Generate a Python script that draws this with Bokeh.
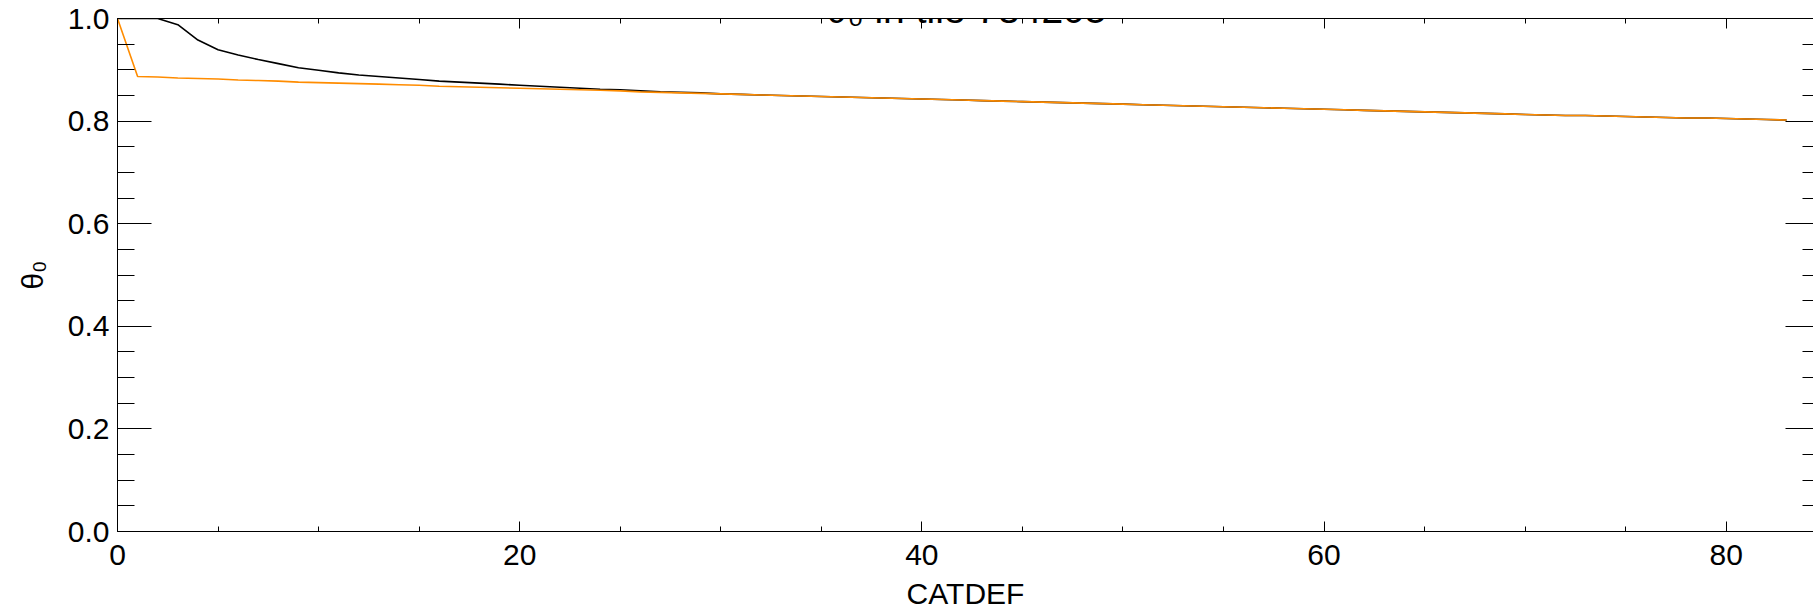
from bokeh.plotting import figure
from bokeh.models import LinearAxis, Label, Range1d, SingleIntervalTicker, PrintfTickFormatter
from bokeh.embed import file_html
from bokeh.resources import INLINE

# ---- data ----
catdef = [0, 1, 2, 3, 4, 5, 6, 7, 8, 9, 10, 11, 12, 13, 14, 15, 16, 17, 18, 19,
          20, 21, 22, 23, 24, 25, 26, 27, 28, 29, 30, 31, 32, 33, 34, 35, 36, 37, 38, 39,
          40, 41, 42, 43, 44, 45, 46, 47, 48, 49, 50, 51, 52, 53, 54, 55, 56, 57, 58, 59,
          60, 61, 62, 63, 64, 65, 66, 67, 68, 69, 70, 71, 72, 73, 74, 75, 76, 77, 78, 79,
          80, 81, 82, 83]

theta0_black = [1.000, 1.000, 1.000, 0.988, 0.958, 0.939, 0.929, 0.920, 0.912, 0.904,
                0.899, 0.894, 0.890, 0.887, 0.884, 0.881, 0.878, 0.876, 0.874, 0.872,
                0.870, 0.868, 0.866, 0.864, 0.862, 0.861, 0.859, 0.857, 0.856, 0.855,
                0.853, 0.852, 0.851, 0.850, 0.849, 0.848, 0.847, 0.846, 0.845, 0.844,
                0.843, 0.842, 0.841, 0.840, 0.839, 0.838, 0.837, 0.836, 0.835, 0.834,
                0.833, 0.832, 0.831, 0.830, 0.829, 0.828, 0.827, 0.826, 0.825, 0.824,
                0.823, 0.822, 0.821, 0.820, 0.819, 0.818, 0.817, 0.816, 0.815, 0.814,
                0.813, 0.812, 0.811, 0.811, 0.810, 0.809, 0.808, 0.807, 0.806, 0.806,
                0.805, 0.804, 0.803, 0.802]

theta0_orange = [1.000, 0.887, 0.886, 0.884, 0.883, 0.882, 0.880, 0.879, 0.878, 0.876,
                 0.875, 0.874, 0.873, 0.872, 0.871, 0.870, 0.868, 0.867, 0.866, 0.865,
                 0.864, 0.863, 0.862, 0.861, 0.860, 0.859, 0.857, 0.856, 0.855, 0.854,
                 0.853, 0.852, 0.851, 0.850, 0.849, 0.848, 0.847, 0.846, 0.845, 0.844,
                 0.843, 0.842, 0.841, 0.840, 0.839, 0.838, 0.837, 0.836, 0.835, 0.834,
                 0.833, 0.832, 0.831, 0.830, 0.829, 0.828, 0.827, 0.826, 0.825, 0.824,
                 0.823, 0.822, 0.821, 0.820, 0.819, 0.818, 0.817, 0.816, 0.815, 0.814,
                 0.813, 0.812, 0.811, 0.811, 0.810, 0.809, 0.808, 0.807, 0.806, 0.806,
                 0.805, 0.804, 0.803, 0.802]

title_text = "θ₀ in tile 784205"
x_label = "CATDEF"
y_label = "θ₀"

FONT = "Liberation Sans"
FS = "30px"

p = figure(width=1813, height=612,
           x_range=Range1d(0, 84.34), y_range=Range1d(0, 1.0),
           output_backend="svg", toolbar_location=None,
           min_border_left=117, min_border_right=0,
           min_border_top=18, min_border_bottom=81)
p.xgrid.visible = False
p.ygrid.visible = False
p.outline_line_color = None
p.background_fill_color = "white"
p.border_fill_color = "white"

xt = SingleIntervalTicker(interval=20, num_minor_ticks=4)
yt = SingleIntervalTicker(interval=0.2, num_minor_ticks=4)


def style(ax, maj, mnr):
    ax.major_tick_in = maj
    ax.major_tick_out = 0
    ax.minor_tick_in = mnr
    ax.minor_tick_out = 0
    ax.axis_line_color = "black"
    ax.axis_line_width = 1
    ax.major_tick_line_color = "black"
    ax.minor_tick_line_color = "black"
    ax.major_label_text_font = FONT
    ax.major_label_text_font_size = FS
    ax.major_label_text_color = "black"


bx = p.xaxis[0]
bx.ticker = xt
style(bx, 10, 5)
bx.major_label_standoff = 13
bx.axis_label = x_label
bx.axis_label_text_font = FONT
bx.axis_label_text_font_size = FS
bx.axis_label_text_font_style = "normal"
bx.axis_label_text_color = "black"
bx.axis_label_standoff = 9

ly = p.yaxis[0]
ly.ticker = yt
ly.formatter = PrintfTickFormatter(format="%.1f")
style(ly, 34, 17)
ly.major_label_standoff = 8
ly.axis_label = y_label
ly.axis_label_text_font = FONT
ly.axis_label_text_font_size = FS
ly.axis_label_text_font_style = "normal"
ly.axis_label_text_color = "black"
ly.axis_label_standoff = 16

tx = LinearAxis(ticker=SingleIntervalTicker(interval=20, num_minor_ticks=4))
style(tx, 10, 5)
tx.major_label_text_font_size = "0px"
tx.major_label_standoff = 0
p.add_layout(tx, "above")

ry = LinearAxis(ticker=SingleIntervalTicker(interval=0.2, num_minor_ticks=4))
style(ry, 28, 11)
ry.axis_line_color = None
ry.major_label_text_font_size = "0px"
ry.major_label_standoff = 0
p.add_layout(ry, "right")

p.line(catdef, theta0_black, line_color="black", line_width=1.6)
p.line(catdef, theta0_orange, line_color="#FF8C00", line_width=1.6)

p.add_layout(Label(x=42.2, y=1.0176, text=title_text, text_align="center",
                   text_baseline="alphabetic", text_font=FONT,
                   text_font_size="39px", text_color="black"))

open("out.html", "w").write(file_html(p, INLINE))
